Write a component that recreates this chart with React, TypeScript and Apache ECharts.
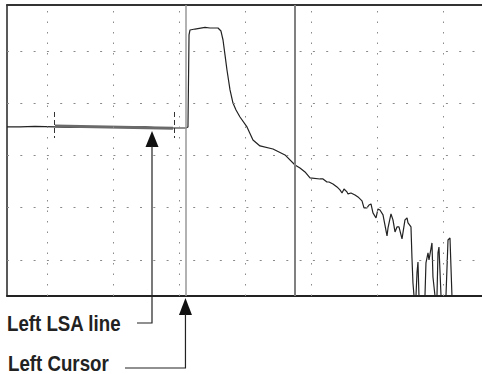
import React, { useEffect, useRef } from 'react';
import * as echarts from 'echarts';

// OTDR-like trace: distance (km, 1 km/div) and level (dB, 5 dB/div)
const traceKm = [
  0.394, 0.591, 0.818, 1.121, 1.348, 1.803, 2.106, 2.485, 2.712, 2.909, 3.106, 3.136,
  3.152, 3.167, 3.242, 3.394, 3.470, 3.591, 3.636, 3.667, 3.697, 3.727, 3.773, 3.818,
  3.864, 3.924, 4.030, 4.121, 4.227, 4.424, 4.485, 4.606, 4.758, 4.833, 4.909, 4.985,
  5.136, 5.182, 5.242, 5.273, 5.333, 5.394, 5.439, 5.470, 5.500, 5.545, 5.561, 5.606,
  5.667, 5.712, 5.773, 5.803, 5.848, 5.879, 5.909, 5.939, 5.985, 6.015, 6.045, 6.091,
  6.152, 6.167, 6.212, 6.242, 6.273, 6.303, 6.333, 6.379, 6.424, 6.455, 6.470, 6.515,
  6.530, 6.545, 6.561, 6.591, 6.606, 6.621, 6.636, 6.727, 6.742, 6.773, 6.788, 6.833,
  6.848, 6.879, 6.909, 6.924, 6.939, 6.970, 7.045, 7.076, 7.106, 7.136, 7.591,
];
const traceDb = [
  17.73, 17.73, 17.78, 17.73, 17.68, 17.73, 17.68, 17.73, 17.63, 17.63, 17.63, 17.73,
  26.53, 27.01, 27.10, 27.25, 27.20, 27.20, 26.91, 26.05, 24.62, 23.18, 21.27, 20.02,
  19.35, 18.68, 17.73, 16.48, 15.91, 15.62, 15.43, 15.05, 14.09, 13.80, 13.42, 12.85,
  12.75, 12.75, 12.46, 12.46, 12.27, 11.99, 11.70, 11.41, 11.79, 11.51, 11.32, 11.41,
  11.22, 11.03, 10.65, 9.98, 9.98, 10.26, 10.36, 9.50, 9.02, 9.88, 9.78, 9.31,
  7.30, 8.06, 9.40, 8.83, 7.68, 8.16, 8.16, 7.01, 8.83, 9.02, 8.54, 8.16,
  5.19, 2.80, 1.55, 1.55, 3.76, 4.81, 1.55, 1.55, 4.71, 5.67, 5.00, 6.63,
  3.37, 1.55, 1.55, 5.67, 6.24, 1.55, 1.55, 6.91, 7.11, 1.55, 1.55,
];

const lsaKm = [1.121, 2.909];
const lsaDb = [17.82, 17.6];
const lsaMarkerKm = [1.114, 2.924];
const lsaMarkerDb = [19.16, 16.67];

const gridKm = [1, 2, 3, 4, 5, 6, 7];
const gridDb = [5, 10, 15, 20, 25];

const leftCursorKm = 3.098;
const rightCursorKm = 4.758;
const lsaArrowKm = 2.591;
const lsaArrowDb = 17.34;

const labels = ['Left LSA line', 'Left Cursor'];

const X_MIN = 0.394;
const X_MAX = 7.591;
const Y_MIN = 1.55;
const Y_MAX = 29.4;

const FONT = "'Liberation Sans', Arial, sans-serif";

export default function App() {
  const ref = useRef<HTMLDivElement>(null);

  useEffect(() => {
    if (!ref.current) return;
    const chart = echarts.init(ref.current, null, { renderer: 'svg' });

    const hiddenAxisBits = {
      axisTick: { show: false },
      axisLabel: { show: false },
      splitLine: { show: false },
    };

    chart.setOption({
      animation: false,
      grid: { left: 7, top: 5, right: 0, bottom: 78 },
      xAxis: [
        {
          type: 'value',
          min: X_MIN,
          max: X_MAX,
          axisLine: { show: true, onZero: false, lineStyle: { color: '#222', width: 2 } },
          ...hiddenAxisBits,
        },
        {
          type: 'value',
          position: 'top',
          min: X_MIN,
          max: X_MAX,
          axisLine: { show: true, onZero: false, lineStyle: { color: '#333', width: 2 } },
          ...hiddenAxisBits,
        },
      ],
      yAxis: {
        type: 'value',
        min: Y_MIN,
        max: Y_MAX,
        axisLine: { show: true, onZero: false, lineStyle: { color: '#222', width: 1.5 } },
        ...hiddenAxisBits,
      },
      series: [
        {
          type: 'line',
          data: [],
          silent: true,
          z: 1,
          markLine: {
            silent: true,
            symbol: 'none',
            label: { show: false },
            data: [
              ...gridKm.map((v) => ({
                xAxis: v,
                lineStyle: { type: [1.5, 9], color: '#8a8a8a', width: 1 },
              })),
              ...gridDb.map((v) => ({
                yAxis: v,
                lineStyle: { type: [2, 11.3], color: '#8a8a8a', width: 1 },
              })),
            ],
          },
        },
        {
          type: 'line',
          data: [],
          silent: true,
          z: 2,
          markLine: {
            silent: true,
            symbol: 'none',
            label: { show: false },
            data: [
              { xAxis: leftCursorKm, lineStyle: { type: 'solid', color: '#999', width: 1.5 } },
              { xAxis: rightCursorKm, lineStyle: { type: 'solid', color: '#808080', width: 2 } },
              ...lsaMarkerKm.map((k) => [
                { coord: [k, lsaMarkerDb[0]], lineStyle: { type: [5, 3], color: '#333', width: 1 } },
                { coord: [k, lsaMarkerDb[1]] },
              ]),
            ],
          },
        },
        {
          type: 'line',
          data: traceKm.map((k, i) => [k, traceDb[i]]),
          showSymbol: false,
          symbol: 'none',
          silent: true,
          z: 3,
          lineStyle: { color: '#222', width: 1.2 },
        },
        {
          type: 'line',
          data: lsaKm.map((k, i) => [k, lsaDb[i]]),
          showSymbol: false,
          symbol: 'none',
          silent: true,
          z: 4,
          lineStyle: { color: '#6a6a6a', width: 3 },
        },
      ],
    });

    const lsaPt = chart.convertToPixel({ gridIndex: 0 }, [lsaArrowKm, lsaArrowDb]) as number[];
    const curPt = chart.convertToPixel({ gridIndex: 0 }, [leftCursorKm, Y_MIN]) as number[];
    const ax = lsaPt[0];
    const ay = lsaPt[1];
    const cx = curPt[0];
    const cy = curPt[1] + 2;

    const labelStyle = {
      verticalAlign: 'middle',
      fill: '#222',
      fontFamily: FONT,
      fontWeight: 'bold',
      fontSize: 22,
    };

    chart.setOption({
      graphic: [
        {
          type: 'polygon',
          silent: true,
          z: 10,
          shape: { points: [[ax, ay], [ax - 6.5, ay + 16], [ax + 6.5, ay + 16]] },
          style: { fill: '#111' },
        },
        {
          type: 'polyline',
          silent: true,
          z: 10,
          shape: { points: [[ax, ay + 15], [ax, 323], [137, 323]] },
          style: { stroke: '#222', lineWidth: 1.2, fill: null },
        },
        {
          type: 'polygon',
          silent: true,
          z: 10,
          shape: { points: [[cx, cy], [cx - 6.5, cy + 17], [cx + 6.5, cy + 17]] },
          style: { fill: '#111' },
        },
        {
          type: 'polyline',
          silent: true,
          z: 10,
          shape: { points: [[cx, cy + 16], [cx, 368], [125, 368]] },
          style: { stroke: '#222', lineWidth: 1.2, fill: null },
        },
        {
          type: 'text',
          silent: true,
          z: 10,
          x: 7,
          y: 323,
          scaleX: 0.85,
          style: { text: labels[0], x: 0, y: 0, ...labelStyle },
        },
        {
          type: 'text',
          silent: true,
          z: 10,
          x: 8,
          y: 363,
          scaleX: 0.85,
          style: { text: labels[1], x: 0, y: 0, ...labelStyle },
        },
      ],
    });

    return () => {
      chart.dispose();
    };
  }, []);

  return (
    <div
      ref={ref}
      style={{ position: 'fixed', left: 0, top: 0, width: 482, height: 374, background: '#fff' }}
    />
  );
}
